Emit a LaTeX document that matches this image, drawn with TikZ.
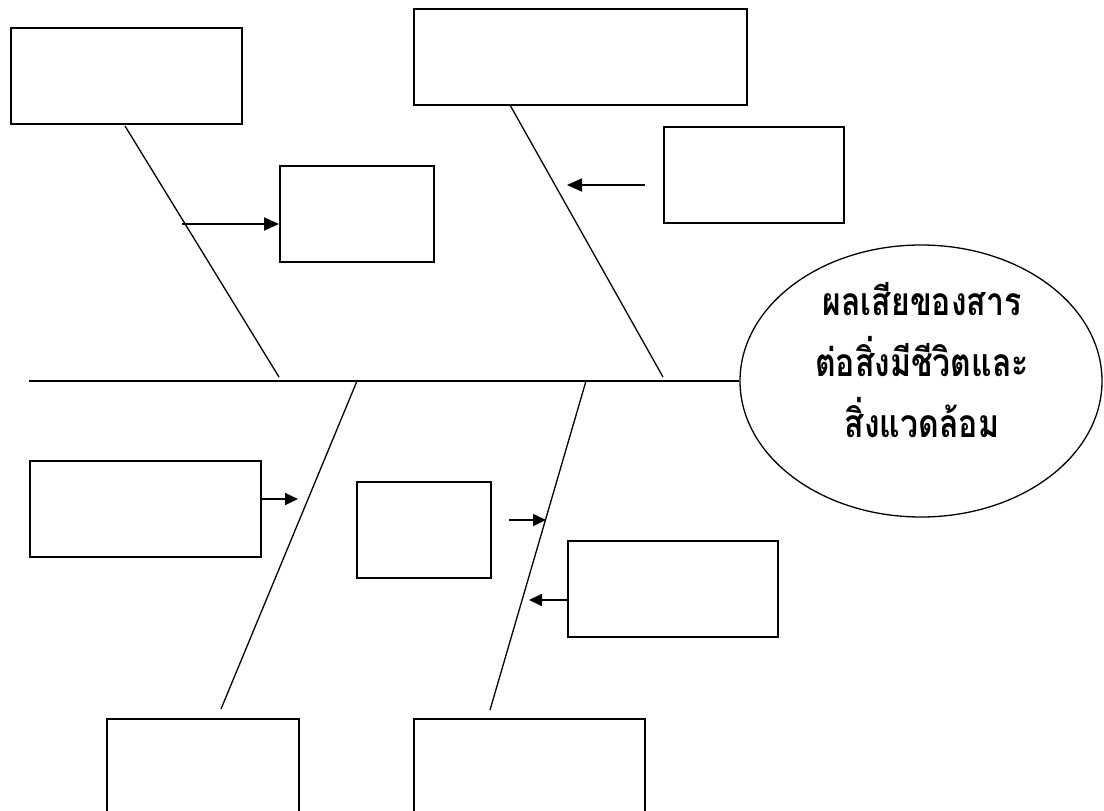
\documentclass[tikz,border=0pt]{standalone}
\usepackage{fontspec}
\newfontfamily\thaifont[Script=Thai,FakeStretch=0.82]{Loma}
\usetikzlibrary{shapes.geometric,arrows.meta}
\begin{document}
\begin{tikzpicture}[x=1pt,y=-1pt,
  box/.style={draw,line width=1.6pt,inner sep=0pt,anchor=north west},
  bone/.style={line width=1.3pt},
  spineline/.style={line width=1.9pt},
  arr/.style={line width=1.8pt,-{Triangle[length=15pt,width=13pt]}},
  sarr/.style={line width=1.8pt,-{Triangle[length=13pt,width=12pt]}},
  effect/.style={draw,ellipse,line width=1.3pt,inner sep=0pt,
    minimum width=362pt,minimum height=272pt},
  effecttext/.style={align=center,inner sep=0pt,
    font=\thaifont\bfseries\fontsize{39}{61}\selectfont}]
\useasboundingbox (0,0) rectangle (1104,811);
% boxes
\node[box,minimum width=231pt,minimum height=96pt] (A) at (10,27) {};
\node[box,minimum width=154pt,minimum height=96pt] (B) at (279,165) {};
\node[box,minimum width=333pt,minimum height=96pt] (C) at (413,8) {};
\node[box,minimum width=180pt,minimum height=96pt] (D) at (663,126) {};
\node[box,minimum width=231pt,minimum height=96pt] (E) at (29,460) {};
\node[box,minimum width=134pt,minimum height=96pt] (F) at (356,481) {};
\node[box,minimum width=210pt,minimum height=96pt] (G) at (567,540) {};
\node[box,minimum width=192pt,minimum height=110pt] (H) at (106,718) {};
\node[box,minimum width=231pt,minimum height=110pt] (I) at (413,718) {};
% effect
\node[effect] (K) at (921,381) {};
\node[effecttext] (Kt) at (922,360) {ผลเสียของสาร\\ต่อสิ่งมีชีวิตและ\\สิ่งแวดล้อม};
% spine
\coordinate (S0) at (29,381);
\draw[spineline] (S0) -- (K.west);
% bones
\coordinate (b1s) at (125,126); \coordinate (b1e) at (279,377);
\coordinate (b2s) at (510,105); \coordinate (b2e) at (663,377);
\coordinate (b3s) at (357,381); \coordinate (b3e) at (221,709);
\coordinate (b4s) at (586,381); \coordinate (b4e) at (490,710);
\draw[bone] (b1s) -- (b1e);
\draw[bone] (b2s) -- (b2e);
\draw[bone] (b3s) -- (b3e);
\draw[bone] (b4s) -- (b4e);
% arrows
\coordinate (a1) at (182,224);
\draw[arr] (a1) -- (a1 -| B.west);
\coordinate (a2s) at (645,185); \coordinate (a2e) at (567,185);
\draw[arr] (a2s) -- (a2e);
\coordinate (a3) at (260,499); \coordinate (a3e) at (298,499);
\draw[sarr] (a3) -- (a3e);
\coordinate (a4) at (509,520); \coordinate (a4e) at (546,520);
\draw[sarr] (a4) -- (a4e);
\coordinate (a5) at (567,600); \coordinate (a5e) at (529,600);
\draw[sarr] (a5) -- (a5e);
\end{tikzpicture}
\end{document}
